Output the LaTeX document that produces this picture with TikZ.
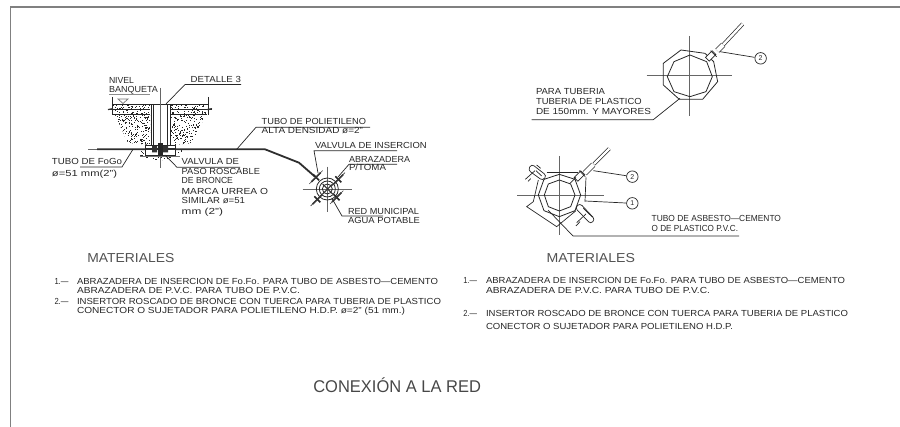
\documentclass[tikz,border=0pt]{standalone}
\usepackage{fontspec}
\usepackage{graphicx}
\setmainfont{Liberation Sans}
\tikzset{
  x=1pt,y=-1pt,
  cadtext/.style={inner sep=0pt,outer sep=0pt,anchor=base west,text=black!85,font=\fontsize{8.8}{10}\selectfont},
  heading/.style={cadtext,text=black!68,font=\fontsize{13}{15}\selectfont},
  titletext/.style={cadtext,text=black!72,font=\fontsize{17}{20}\selectfont},
  cadline/.style={draw=black!85,line width=0.7pt},
  centerline/.style={draw=black!60,line width=0.8pt},
  pipeline/.style={draw=black!82,line width=1.8pt},
  frameline/.style={draw=black!50,line width=1.2pt},
  balloon/.style={circle,draw=black!85,line width=0.7pt,minimum size=11.5pt,inner sep=0pt,text=black!85,font=\fontsize{7}{8}\selectfont}
}
\newcommand{\cadlabel}[6][cadtext]{%
  \pgfmathsetmacro{\cadw}{#5-#3}%
  \node[#1] (#2) at (#3,#4) {\resizebox{\cadw pt}{\height}{#6}};}
\begin{document}
\begin{tikzpicture}
\useasboundingbox (0,0) rectangle (900,427);
% frame
\draw[frameline] (900,7) -- (10.5,7) -- (10.5,427);

% ---------- left detail: stippled backfill
\begin{scope}
\clip (112.7,104.5) -- (150,104.5) -- (150,145) -- (128,143) -- (115,115) -- cycle
      (170,104.5) -- (206,104.5) -- (206.5,115) -- (191.7,143) -- (175,145) -- (170,145) -- cycle
      (136,150) -- (184,150) -- (178,156) -- (160,161) -- (142,158) -- cycle;
\pgfmathsetseed{11}
\foreach \i in {1,...,1100}{
  \pgfmathsetmacro{\xx}{112+rnd*96}
  \pgfmathsetmacro{\yy}{104+rnd*58}
  \fill[black!85] (\xx,\yy) rectangle ++(0.85,0.85);
}
\end{scope}
% ground and riser
\draw[cadline,line width=0.9pt] (112,104.3) -- (208,104.3);
\draw[cadline] (112,114.3) -- (150,114.3) (170,114.3) -- (207,114.3);
\draw[cadline] (112,97) -- (112,115) (208,97) -- (208,115);
\draw[cadline] (108,109) -- (150,109) (170,109) -- (212,109);
\draw[line width=1.2pt,draw=black!80] (108,109.6) -- (113,108.6) (207,109.6) -- (212,108.6);
\draw[cadline] (151,104.3) -- (151,145) (153.3,104.3) -- (153.3,145)
               (167.3,104.3) -- (167.3,145) (170,104.3) -- (170,145);
\draw[centerline,line width=0.6pt] (160,88) -- (160,168);
% level mark
\draw[cadline,draw=black!45,line width=0.9pt] (109,94) -- (150,94);
\draw[cadline,draw=black!55] (118,99) -- (128,99) -- (123,103.5) -- cycle;
% main pipe and valve
\draw[centerline,line width=0.9pt] (88,149.3) -- (97,149.3);
\draw[pipeline] (97,149.3) -- (265,149.3) -- (299,162.7) -- (315,176.7);
\draw[cadline,fill=white] (145.7,145) rectangle (175,155);
\draw[pipeline] (146,149.3) -- (175,149.3);
\fill[black!80] (152,146) rectangle (157,152.5) (163,146) rectangle (168,152.5);
\fill[black!85] (157.5,143) rectangle (162.5,155);
\fill[black!55] (140,156) rectangle (180,157);

% ---------- left detail: service saddle
\begin{scope}[shift={(240,120)},x=0.3333pt,y=-0.3333pt]
  \draw[centerline] (188,207) -- (335,207) (262,140) -- (262,275);
  \draw[cadline,line width=0.8pt] (262,207) circle[radius=33];
  \draw[cadline,line width=0.8pt] (262,207) circle[radius=24];
  \draw[cadline,line width=0.8pt] (262,207) circle[radius=15];
  \draw[line width=1.1pt,draw=black!80] (248,192) -- (278,222) (278,192) -- (248,222);
  \foreach \cx/\cy in {228/172,295/178,232/238,290/232}{
    \draw[line width=1.6pt,draw=black!85] (\cx-14,\cy+14) -- (\cx+14,\cy-14);
    \draw[line width=1.6pt,draw=black!85] (\cx-9,\cy-9) -- (\cx+9,\cy+9);
    \draw[line width=0.6pt,draw=black!75] (\cx-20,\cy+20) -- (\cx+20,\cy-20);
  }
\end{scope}

% ---------- left labels
\cadlabel{nivel}{109}{84}{134}{NIVEL}
\cadlabel{banqueta}{109}{92.3}{158}{BANQUETA}
\cadlabel{detalle}{190.7}{82.7}{241}{DETALLE 3}
\draw[cadline] (241,84.5) -- (185,84.5) -- (166,104);
\cadlabel{fogo}{52}{165}{122}{TUBO DE FoGo}
\cadlabel{fogodim}{52}{176.7}{117}{ø=51 mm(2")}
\draw[cadline] (80,167) -- (122,167) -- (133,149.3);
\cadlabel{valv1}{181.7}{165}{239}{VALVULA DE}
\cadlabel{valv2}{181.7}{174.3}{260}{PASO ROSCABLE}
\cadlabel{valv3}{181.7}{184}{233}{DE BRONCE}
\cadlabel{valv4}{181.7}{194.3}{268}{MARCA URREA O}
\cadlabel{valv5}{181.7}{204}{245}{SIMILAR ø=51}
\cadlabel{valv6}{181.7}{214.7}{223}{mm (2")}
\draw[cadline] (240,167.3) -- (177,167.3) -- (165,155);
\cadlabel{tubo1}{261.7}{124.3}{366}{TUBO DE POLIETILENO}
\cadlabel{tubo2}{261.7}{134}{363}{ALTA DENSIDAD ø=2"}
\draw[cadline] (370,127.3) -- (256,127.3) -- (236.7,149.3);
\cadlabel{vins}{315}{149}{426.7}{VALVULA DE INSERCION}
\draw[cadline] (397,150.7) -- (314,150.7) -- (318,173);
\cadlabel{abr1}{349}{162.7}{410}{ABRAZADERA}
\cadlabel{abr2}{349}{171}{386}{P/TOMA}
\draw[cadline] (397,164.3) -- (349,164.3) -- (338,177);
\cadlabel{red1}{348}{215}{419}{RED MUNICIPAL}
\cadlabel{red2}{348}{224}{420}{AGUA POTABLE}
\draw[cadline] (383,216) -- (342,216) -- (331.7,198);

% ---------- right top detail
\begin{scope}[shift={(520,30)},x=0.3333pt,y=-0.3333pt]
  \draw[centerline] (380,137) -- (637,137) (508,18) -- (508,258);
  \draw[cadline,line width=0.8pt] (483,60) -- (555,70) -- (581,95) -- (593,155) -- (548,208) -- (478,208) -- (430,165) -- (430,100) -- cycle;
  \draw[cadline,line width=0.8pt] (510,75) -- (560,95) -- (577,140) -- (558,185) -- (510,200) -- (462,185) -- (442,140) -- (462,95) -- cycle;
  \draw[cadline,fill=white,rotate around={45:(572,78)}] (558,70) rectangle (586,86);
  \draw[cadline] (572,62) -- (590,80);
  \draw[cadline,double,double distance=4pt] (592,62) -- (610,44);
  \draw[cadline,double,double distance=2.4pt] (610,44) -- (668,-18);
  \node[balloon] (b2top) at (722,85) {2};
  \coordinate (b2topfrom) at (600,65);
  \draw[cadline] (b2topfrom) -- (b2top);
\end{scope}
\cadlabel{para1}{536}{94.3}{605}{PARA TUBERIA}
\cadlabel{para2}{536}{105}{641.7}{TUBERIA DE PLASTICO}
\cadlabel{para3}{536}{115}{651}{DE 150mm. Y MAYORES}
\draw[cadline] (531.7,119.7) -- (653.3,119.7) -- (680,98.3);

% ---------- right bottom detail
\begin{scope}[shift={(500,140)},x=0.3333pt,y=-0.3333pt]
  \draw[centerline] (52,165) -- (312,165) (178,48) -- (178,285);
  % inner and middle rings
  \draw[cadline,line width=0.8pt] (178,120) -- (212,132) -- (225,165) -- (212,200) -- (178,213) -- (145,200) -- (133,165) -- (145,132) -- cycle;
  \draw[cadline,line width=0.8pt] (178,103) -- (225,118) -- (242,165) -- (225,212) -- (178,230) -- (132,212) -- (115,165) -- (132,118) -- cycle;
  % clamp outline
  \draw[cadline] (140,97) -- (235,97);
  \draw[cadline] (115,120) -- (100,185) -- (80,200) -- (170,260) -- (228,212);
  \draw[cadline] (258,112) -- (255,185);
  % flanges
  \draw[cadline,rounded corners=3pt] (95,72) -- (140,107) -- (128,122) -- (84,90) -- cycle;
  \draw[cadline] (108,92) -- (125,108);
  \draw[cadline] (76,118) -- (105,92) (84,124) -- (92,116);
  \draw[cadline] (110,75) -- (122,85);
  \draw[cadline,rounded corners=3pt] (225,203) -- (240,190) -- (285,238) -- (272,252) -- cycle;
  \draw[cadline] (230,248) -- (258,222) (228,258) -- (240,245);
  \draw[cadline] (250,205) -- (278,232);
  % insertion
  \draw[cadline,fill=white,rotate around={45:(238,108)}] (224,100) rectangle (252,116);
  \draw[cadline] (238,92) -- (256,110) (210,130) -- (228,112);
  \draw[cadline,double,double distance=4pt] (254,100) -- (280,74);
  \draw[cadline,double,double distance=2.4pt] (282,72) -- (328,26);
  \node[balloon] (b2) at (397,110) {2};
  \node[balloon] (b1) at (397,190) {1};
  \coordinate (b2from) at (280,92);
  \coordinate (b1from) at (255,183);
  \draw[cadline] (b2from) -- (b2);
  \draw[cadline] (b1from) -- (b1);
\end{scope}
\cadlabel{asb1}{651.7}{221.7}{781}{TUBO DE ASBESTO—CEMENTO}
\cadlabel{asb2}{651.7}{231.7}{738}{O DE PLASTICO P.V.C.}
\draw[cadline] (739,236) -- (573,236) -- (548,210);

% ---------- material lists
\cadlabel[heading]{matl}{87.3}{262.7}{174.3}{MATERIALES}
\cadlabel{ln1}{54.5}{284.3}{68.5}{1.—}
\cadlabel{la1}{77}{284.3}{438}{ABRAZADERA DE INSERCION DE Fo.Fo. PARA TUBO DE ASBESTO—CEMENTO}
\cadlabel{la2}{77}{293.3}{300}{ABRAZADERA DE P.V.C. PARA TUBO DE P.V.C.}
\cadlabel{ln2}{54.5}{304.3}{68.5}{2.—}
\cadlabel{la3}{77}{304.3}{441}{INSERTOR ROSCADO DE BRONCE CON TUERCA PARA TUBERIA DE PLASTICO}
\cadlabel{la4}{77}{313.3}{405}{CONECTOR O SUJETADOR PARA POLIETILENO H.D.P. ø=2" (51 mm.)}

\cadlabel[heading]{matr}{546.7}{262.7}{635}{MATERIALES}
\cadlabel{rn1}{463.3}{283.3}{477}{1.—}
\cadlabel{ra1}{486}{283.3}{845}{ABRAZADERA DE INSERCION DE Fo.Fo. PARA TUBO DE ASBESTO—CEMENTO}
\cadlabel{ra2}{486}{294}{710}{ABRAZADERA DE P.V.C. PARA TUBO DE P.V.C.}
\cadlabel{rn2}{463.3}{316.7}{477}{2.—}
\cadlabel{ra3}{486}{316.7}{848}{INSERTOR ROSCADO DE BRONCE CON TUERCA PARA TUBERIA DE PLASTICO}
\cadlabel{ra4}{486}{329.3}{733}{CONECTOR O SUJETADOR PARA POLIETILENO H.D.P.}

% ---------- title
\cadlabel[titletext]{title}{313.3}{392.7}{481}{CONEXIÓN A LA RED}
\end{tikzpicture}
\end{document}
